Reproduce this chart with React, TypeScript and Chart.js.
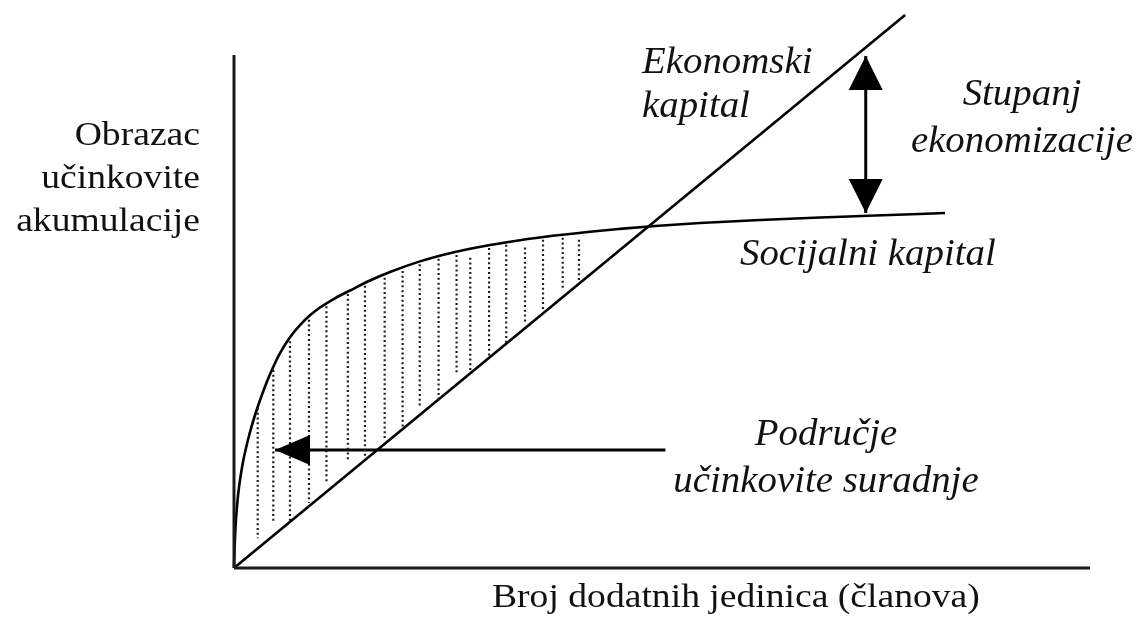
import React, { useEffect, useRef } from "react";
import { Chart, registerables } from "chart.js";

Chart.register(...registerables);

// Axis extents (conceptual units)
const axisXEnd = 10;
const axisYEnd = 10;

// Ekonomski kapital: straight line
const economicX = [0, 7.84];
const economicY = [0, 10.78];

// Socijalni kapital: concave curve
const socialX = [0, 0.007, 0.0175, 0.0315, 0.0502, 0.0736, 0.1051, 0.1402, 0.1811, 0.2278, 0.2804, 0.3388, 0.3972, 0.4556, 0.5374, 0.6542, 0.771, 0.8879, 1.0047, 1.1799, 1.3551, 1.5888, 1.8224, 2.1729, 2.5818, 2.9907, 3.3411, 3.75, 4.1589, 4.5093, 4.9182, 5.4439, 6.1449, 6.8458, 7.4065, 8.3061];
const socialY = [0, 0.39, 0.78, 1.131, 1.462, 1.754, 2.066, 2.339, 2.612, 2.885, 3.158, 3.431, 3.684, 3.91, 4.19, 4.5, 4.735, 4.925, 5.078, 5.258, 5.409, 5.604, 5.77, 5.977, 6.16, 6.296, 6.39, 6.48, 6.556, 6.61, 6.667, 6.725, 6.784, 6.832, 6.865, 6.92];

// Dotted hatching (područje učinkovite suradnje)
const hatchX = [0.277, 0.459, 0.654, 0.876, 1.08, 1.33, 1.53, 1.76, 1.97, 2.17, 2.39, 2.6, 2.76, 2.98, 3.18, 3.4, 3.61, 3.84, 4.03];
const hatchTop = [3.12, 3.86, 4.42, 4.84, 5.1, 5.34, 5.5, 5.66, 5.79, 5.92, 6.03, 6.1, 6.05, 6.24, 6.3, 6.25, 6.4, 6.44, 6.4];
const hatchBottom = [0.58, 0.88, 0.9, 1.27, 1.66, 2.07, 2.14, 2.5, 2.75, 3.12, 3.24, 3.76, 3.86, 4.11, 4.39, 4.8, 5.03, 5.46, 5.58];

// Arrows
const areaArrowX = [5.04, 0.479];
const areaArrowY = [2.3, 2.3];
const gapArrowX = [7.38, 7.38];
const gapArrowY = [9.98, 6.92];

const INK = "#111111";

type Lbl = { lines: string[]; x: number; y: number[]; align: CanvasTextAlign; italic: boolean };

const labels: Lbl[] = [
  { lines: ["Obrazac", "učinkovite", "akumulacije"], x: 200, y: [145, 188, 231], align: "right", italic: false },
  { lines: ["Broj dodatnih jedinica (članova)"], x: 492, y: [607], align: "left", italic: false },
  { lines: ["Ekonomski", "kapital"], x: 642, y: [73, 117], align: "left", italic: true },
  { lines: ["Stupanj", "ekonomizacije"], x: 1022, y: [105, 152], align: "center", italic: true },
  { lines: ["Socijalni kapital"], x: 740, y: [265], align: "left", italic: true },
  { lines: ["Područje", "učinkovite suradnje"], x: 826, y: [445, 492], align: "center", italic: true },
];

const pts = (xs: number[], ys: number[]) => xs.map((x, i) => ({ x, y: ys[i] }));

const annotationPlugin = {
  id: "annotations",
  afterDatasetsDraw(chart: any) {
    const ctx: CanvasRenderingContext2D = chart.ctx;
    const xs = chart.scales.x;
    const ys = chart.scales.y;
    const head = (tx: number, ty: number, fx: number, fy: number, len: number, half: number) => {
      const px = xs.getPixelForValue(tx);
      const py = ys.getPixelForValue(ty);
      const qx = xs.getPixelForValue(fx);
      const qy = ys.getPixelForValue(fy);
      const ang = Math.atan2(py - qy, px - qx);
      ctx.save();
      ctx.translate(px, py);
      ctx.rotate(ang);
      ctx.beginPath();
      ctx.moveTo(0, 0);
      ctx.lineTo(-len, -half);
      ctx.lineTo(-len, half);
      ctx.closePath();
      ctx.fillStyle = "#000";
      ctx.fill();
      ctx.restore();
    };
    head(areaArrowX[1], areaArrowY[1], areaArrowX[0], areaArrowY[0], 35, 15);
    head(gapArrowX[0], gapArrowY[0], gapArrowX[1], gapArrowY[1], 34, 17);
    head(gapArrowX[1], gapArrowY[1], gapArrowX[0], gapArrowY[0], 34, 17);

    ctx.save();
    ctx.fillStyle = INK;
    ctx.textBaseline = "alphabetic";
    for (const l of labels) {
      ctx.font = l.italic ? "italic 37px 'Liberation Serif', 'Times New Roman', serif" : "33px 'Liberation Serif', 'Times New Roman', serif";
      ctx.textAlign = l.align;
      const sx = l.italic ? 1.05 : 1.14;
      l.lines.forEach((t, i) => {
        ctx.save();
        ctx.translate(l.x, l.y[i]);
        ctx.scale(sx, 1);
        ctx.fillText(t, 0, 0);
        ctx.restore();
      });
    }
    ctx.restore();
  },
};

export default function App() {
  const ref = useRef<HTMLCanvasElement | null>(null);
  useEffect(() => {
    if (!ref.current) return;
    const datasets: any[] = [];
    hatchX.forEach((x, i) => {
      datasets.push({
        data: pts([x, x], [hatchTop[i], hatchBottom[i]]),
        borderColor: "#1e1e1e",
        borderWidth: 2.2,
        borderDash: [2, 2.8],
        pointRadius: 0,
        fill: false,
      });
    });
    datasets.push(
      { data: pts([0, 0], [0, axisYEnd]), borderColor: "#1a1a1a", borderWidth: 3, pointRadius: 0 },
      { data: pts([0, axisXEnd], [0, 0]), borderColor: "#1a1a1a", borderWidth: 3, pointRadius: 0 },
      { data: pts(economicX, economicY), borderColor: "#000", borderWidth: 2.6, pointRadius: 0 },
      {
        data: pts(socialX, socialY),
        borderColor: "#000",
        borderWidth: 2.6,
        pointRadius: 0,
        cubicInterpolationMode: "monotone",
      },
      { data: pts(areaArrowX, areaArrowY), borderColor: "#000", borderWidth: 3, pointRadius: 0 },
      { data: pts(gapArrowX, gapArrowY), borderColor: "#000", borderWidth: 3, pointRadius: 0 }
    );
    const chart = new Chart(ref.current, {
      type: "line",
      data: { datasets },
      options: {
        animation: false,
        responsive: false,
        maintainAspectRatio: false,
        parsing: false as any,
        layout: { padding: 0 },
        elements: { line: { tension: 0 } },
        plugins: { legend: { display: false }, tooltip: { enabled: false } },
        scales: {
          x: { type: "linear", display: false, min: -234 / 85.6, max: (1142 - 234) / 85.6 },
          y: { type: "linear", display: false, min: -(631 - 568) / 51.3, max: 568 / 51.3 },
        },
      },
      plugins: [annotationPlugin],
    });
    return () => chart.destroy();
  }, []);
  return (
    <div style={{ position: "fixed", left: 0, top: 0, width: 1142, height: 631, background: "#fff" }}>
      <canvas ref={ref} width={1142} height={631} style={{ width: 1142, height: 631, display: "block" }} />
    </div>
  );
}
